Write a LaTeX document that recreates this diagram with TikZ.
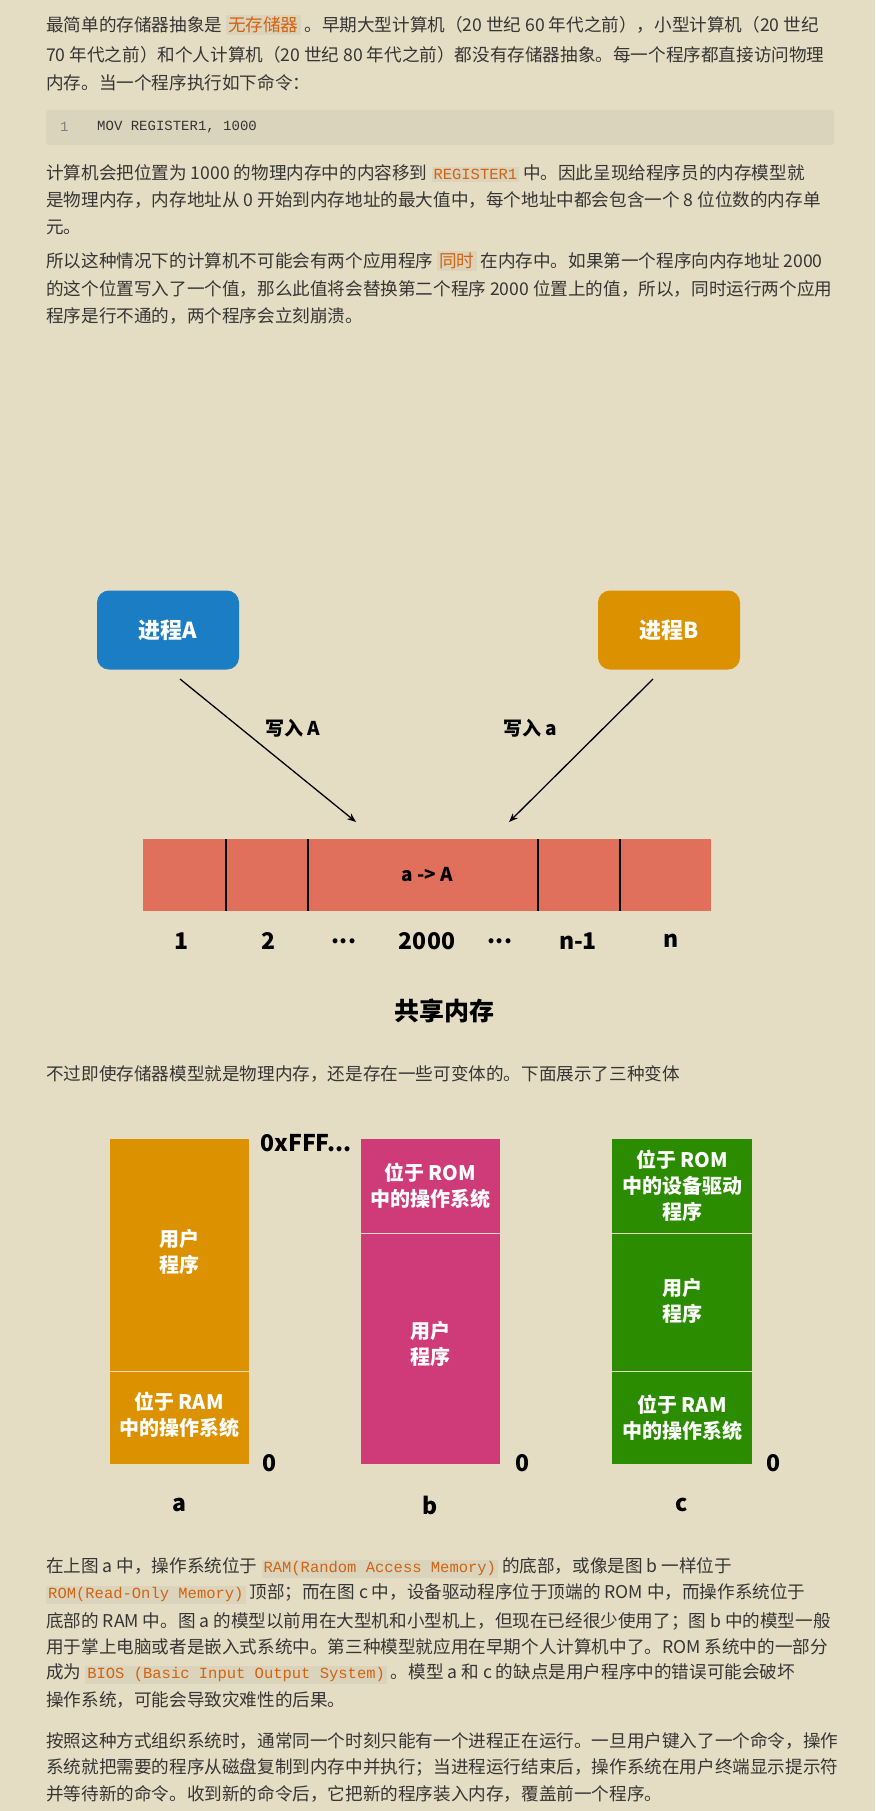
\documentclass[tikz,border=0pt]{standalone}
\usepackage{fontspec}
\setmainfont{Noto Sans CJK SC}
\setmonofont{Liberation Mono}
\usetikzlibrary{arrows.meta}
\definecolor{bg}{HTML}{E4DDC3}
\definecolor{codebg}{HTML}{DBD4BC}
\definecolor{codeor}{HTML}{D4620F}
\definecolor{txt}{HTML}{353535}
\definecolor{pblue}{HTML}{1B7DC4}
\definecolor{porange}{HTML}{DB9100}
\definecolor{pred}{HTML}{E0705C}
\definecolor{pmag}{HTML}{CF3A78}
\definecolor{pgreen}{HTML}{2B8C00}
\newcommand{\ic}[1]{{\setlength\fboxsep{2pt}\colorbox{codebg}{\color{codeor}\ttfamily\fontsize{15.5}{18}\selectfont #1}}}
\newcommand{\icj}[1]{{\setlength\fboxsep{2pt}\colorbox{codebg}{\color{codeor}#1}}}
\tikzset{
 para/.style={anchor=west,inner sep=0pt,font=\fontsize{17.6}{20}\selectfont,text=txt},
 proc/.style={rounded corners=12pt,minimum width=142pt,minimum height=79pt,text=white,font=\fontsize{22}{24}\selectfont\bfseries},
 lbl/.style={font=\fontsize{19}{22}\selectfont\bfseries,text=black},
 num/.style={font=\fontsize{23}{26}\selectfont\bfseries,text=black},
 boxtxt/.style={text=white,font=\fontsize{20}{26}\selectfont\bfseries,align=center},
 big/.style={font=\fontsize{23}{26}\selectfont\bfseries,text=black},
 arr/.style={-{Stealth[length=9pt,width=7pt]},line width=1.3pt},
 sep/.style={line width=2pt,black}
}
\begin{document}
\begin{tikzpicture}[x=1pt,y=-1pt]
\fill[bg] (0,0) rectangle (875,1811);
\useasboundingbox (0,0) rectangle (875,1811);
% top text
\node[para] (t1) at (46,25) {最简单的存储器抽象是 \icj{无存储器} 。早期大型计算机（20 世纪 60 年代之前），小型计算机（20 世纪};
\node[para] (t2) at (46,55) {70 年代之前）和个人计算机（20 世纪 80 年代之前）都没有存储器抽象。每一个程序都直接访问物理};
\node[para] (t3) at (46,83) {内存。当一个程序执行如下命令：};
\fill[codebg,rounded corners=3pt] (46,110) rectangle (834,145);
\node[para,text=gray,font=\fontsize{14}{16}\selectfont\ttfamily] (cn) at (60,127) {1};
\node[para,font=\fontsize{14}{16}\selectfont\ttfamily] (cc) at (97,127) {MOV REGISTER1, 1000};
\node[para] (t4) at (46,173) {计算机会把位置为 1000 的物理内存中的内容移到 \ic{REGISTER1} 中。因此呈现给程序员的内存模型就};
\node[para] (t5) at (46,200) {是物理内存，内存地址从 0 开始到内存地址的最大值中，每个地址中都会包含一个 8 位位数的内存单};
\node[para] (t6) at (46,227) {元。};
\node[para] (t7) at (46,261) {所以这种情况下的计算机不可能会有两个应用程序 \icj{同时} 在内存中。如果第一个程序向内存地址 2000};
\node[para] (t8) at (46,289) {的这个位置写入了一个值，那么此值将会替换第二个程序 2000 位置上的值，所以，同时运行两个应用};
\node[para] (t9) at (46,316) {程序是行不通的，两个程序会立刻崩溃。};
% processes
\node[proc,fill=pblue] (pa) at (168,630) {进程A};
\node[proc,fill=porange] (pb) at (669,630) {进程B};
\fill[pred] (143,839) rectangle (711,911);
\coordinate (ta) at (356,822);
\coordinate (tb) at (509,822);
\coordinate (sa) at (180,679);
\coordinate (sb) at (653,679);
\draw[arr] (sa) -- (ta);
\draw[arr] (sb) -- (tb);
\node[lbl] (la) at (293,728) {写入 A};
\node[lbl] (lb) at (530,728) {写入 a};
\foreach \x in {226,308,538,620} \draw[sep] (\x,839) -- (\x,911);
\node[lbl] (aa) at (427,875) {a -> A};
\node[num] (n1) at (182,941) {1};
\node[num] (n2) at (268,941) {2};
\node[num] (n3) at (344,941) {...};
\node[num] (n4) at (427,941) {2000};
\node[num] (n5) at (500,941) {...};
\node[num] (n6) at (578,941) {n-1};
\node[num] (n7) at (671,941) {n};
\node[font=\fontsize{25}{28}\selectfont\bfseries] (sh) at (444,1011) {共享内存};
\node[para] (t10) at (46,1074) {不过即使存储器模型就是物理内存，还是存在一些可变体的。下面展示了三种变体};
% variants
\fill[porange] (110,1139) rectangle (249,1464);
\draw[bg,line width=1pt] (110,1371) -- (249,1371);
\node[boxtxt] (a1) at (179,1252) {用户\\程序};
\node[boxtxt] (a2) at (179,1415) {位于 RAM\\中的操作系统};
\fill[pmag] (361,1139) rectangle (500,1464);
\draw[bg,line width=1pt] (361,1233) -- (500,1233);
\node[boxtxt] (b1) at (430,1186) {位于 ROM\\中的操作系统};
\node[boxtxt] (b2) at (430,1344) {用户\\程序};
\fill[pgreen] (612,1139) rectangle (752,1464);
\draw[bg,line width=1pt] (612,1233) -- (752,1233);
\draw[bg,line width=1pt] (612,1371) -- (752,1371);
\node[boxtxt] (c1) at (682,1186) {位于 ROM\\中的设备驱动\\程序};
\node[boxtxt] (c2) at (682,1301) {用户\\程序};
\node[boxtxt] (c3) at (682,1418) {位于 RAM\\中的操作系统};
\node[big] (fff) at (306,1143) {0xFFF...};
\node[big] (z1) at (269,1463) {0};
\node[big] (z2) at (522,1463) {0};
\node[big] (z3) at (773,1463) {0};
\node[big] (la1) at (179,1505) {a};
\node[big] (lb1) at (430,1505) {b};
\node[big] (lc1) at (682,1505) {c};
% bottom text
\node[para] (u1) at (46,1568) {在上图 a 中，操作系统位于 \ic{RAM(Random Access Memory)} 的底部，或像是图 b 一样位于};
\node[para] (u2) at (46,1594) {\ic{ROM(Read-Only Memory)} 顶部；而在图 c 中，设备驱动程序位于顶端的 ROM 中，而操作系统位于};
\node[para] (u3) at (46,1621) {底部的 RAM 中。图 a 的模型以前用在大型机和小型机上，但现在已经很少使用了；图 b 中的模型一般};
\node[para] (u4) at (46,1647) {用于掌上电脑或者是嵌入式系统中。第三种模型就应用在早期个人计算机中了。ROM 系统中的一部分};
\node[para] (u5) at (46,1674) {成为 \ic{BIOS (Basic Input Output System)} 。模型 a 和 c 的缺点是用户程序中的错误可能会破坏};
\node[para] (u6) at (46,1700) {操作系统，可能会导致灾难性的后果。};
\node[para] (v1) at (46,1741) {按照这种方式组织系统时，通常同一个时刻只能有一个进程正在运行。一旦用户键入了一个命令，操作};
\node[para] (v2) at (46,1767) {系统就把需要的程序从磁盘复制到内存中并执行；当进程运行结束后，操作系统在用户终端显示提示符};
\node[para] (v3) at (46,1794) {并等待新的命令。收到新的命令后，它把新的程序装入内存，覆盖前一个程序。};
\end{tikzpicture}
\end{document}
